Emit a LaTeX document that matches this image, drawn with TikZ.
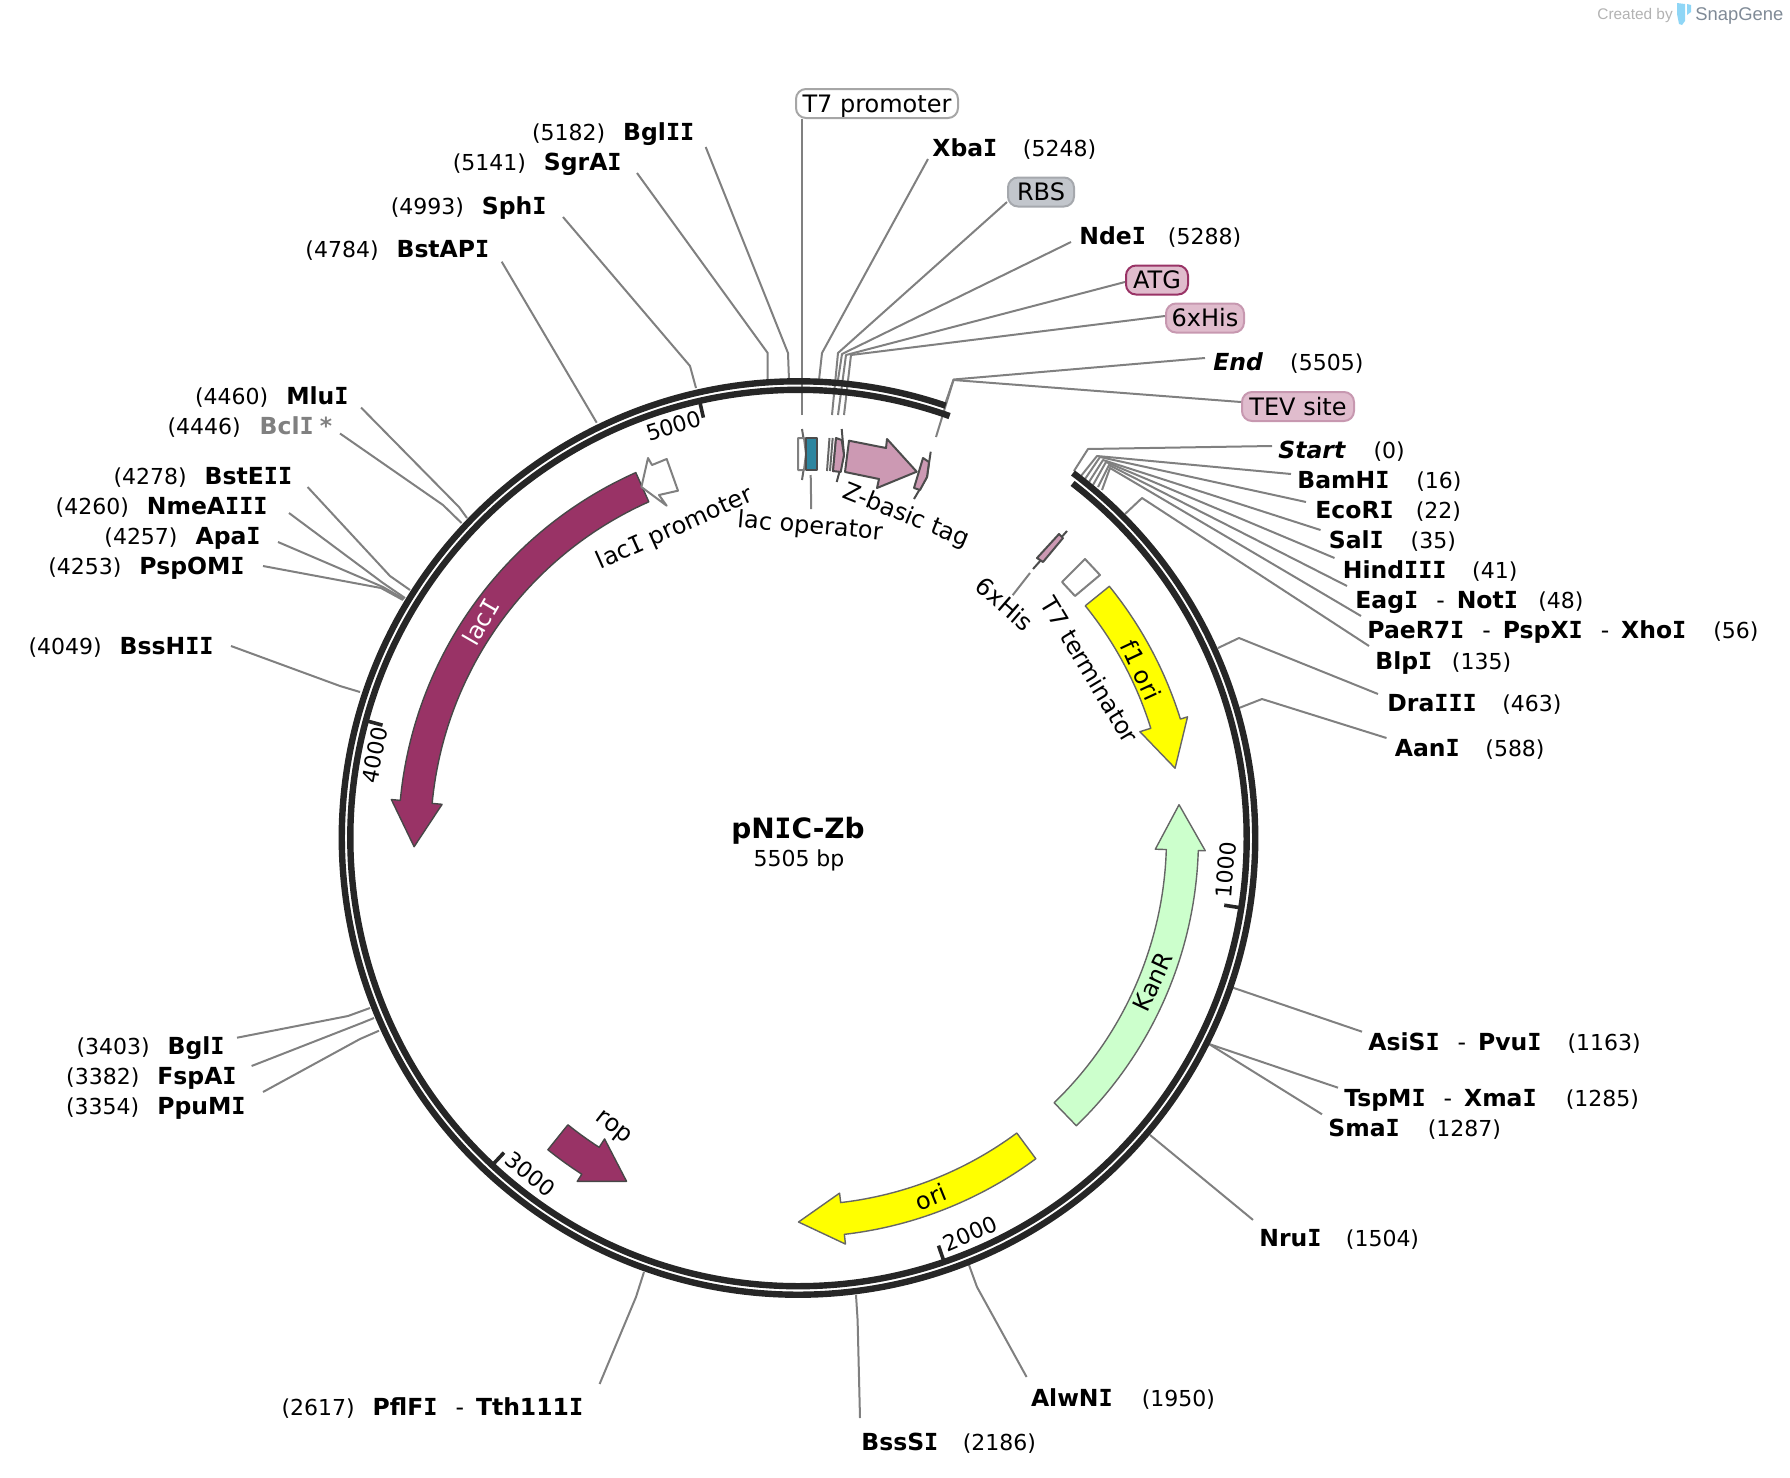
\documentclass[tikz,border=0pt]{standalone}
\usepackage{fontspec}
\setmainfont{DejaVu Sans}
\newfontfamily\logofont{Liberation Sans}
\newfontfamily\slabfont{DejaVu Sans Mono}
\definecolor{ringc}{HTML}{262626}
\definecolor{leaderc}{HTML}{808080}
\definecolor{purplec}{HTML}{993366}
\definecolor{pinkc}{HTML}{CC99B3}
\definecolor{pinkl}{HTML}{E0BCCD}
\definecolor{pinkd}{HTML}{C798B0}
\definecolor{tealc}{HTML}{2E86A0}
\definecolor{greyb}{HTML}{C2C6CC}
\definecolor{greene}{HTML}{CCFFCC}
\definecolor{yellowc}{RGB}{255,255,0}
\definecolor{snapc}{HTML}{7F8A96}
\definecolor{snapb}{HTML}{8FD6F6}
\newcommand{\bI}{{\slabfont\bfseries I}}
\newcommand{\rI}{{\slabfont I}}
\newcommand{\site}[3][14.5pt]{{\fontsize{11.75}{13}\selectfont\bfseries #2}\hspace{#1}#3}
\newcommand{\sitel}[3][9pt]{#2\hspace{#1}{\fontsize{11.75}{13}\selectfont\bfseries #3}}
\newcommand{\sitedash}{\hspace{9pt}{\fontseries{m}\selectfont -}\hspace{6pt}}
\tikzset{
    rlabel/.style = {anchor=west, inner xsep=3pt, inner ysep=1pt, text height=8.5pt, text depth=0pt, font=\fontsize{11}{13}\selectfont},
    llabel/.style = {anchor=east, inner xsep=2pt, inner ysep=1pt, text height=8.5pt, text depth=0pt, font=\fontsize{11}{13}\selectfont},
    featbox/.style = {draw, rounded corners=5pt, line width=1pt, inner xsep=0pt, inner ysep=2.85pt, text height=8.8pt, text depth=0pt, font=\fontsize{12}{14}\selectfont},
    featlabel/.style = {inner sep=1pt, font=\fontsize{12}{14}\selectfont},
    ticklabel/.style = {inner sep=1pt, font=\fontsize{11}{13}\selectfont},
    leader/.style = {draw=leaderc, line width=1pt, line join=round},
    ring/.style = {draw=ringc, line width=3.2pt},
    tickm/.style = {draw=ringc, line width=1.8pt},
    genepurple/.style = {draw=ringc!85, fill=purplec, line width=0.7pt, line join=round},
    geneyellow/.style = {draw=black!60, fill=yellowc, line width=0.7pt, line join=round},
    genegreen/.style = {draw=black!60, fill=greene, line width=0.7pt, line join=round},
    small/.style = {draw=black!70, line width=1pt, line join=round}
}

\begin{document}
\begin{tikzpicture}[x=0.5pt,y=-0.5pt]
\useasboundingbox (0,0) rectangle (1790,1478);

% boxed features
\node[featbox, draw=black!35, fill=white, minimum width=81pt] (T7prom) at (877,103.5) {T7 promoter};
\node[featbox, draw=greyb!85!black, fill=greyb, minimum width=33pt] (RBS) at (1041,192) {RBS};
\node[featbox, draw=purplec, fill=pinkl, minimum width=31pt] (ATG) at (1157,280) {ATG};
\node[featbox, draw=pinkd, fill=pinkl, minimum width=39pt] (SixHis) at (1205,318) {6xHis};
\node[featbox, draw=pinkd, fill=pinkl, minimum width=56pt] (TEV) at (1298,406.5) {TEV site};

% sites on the right
\node[rlabel] (XbaI) at (926,148) {\site[12.8pt]{Xba\bI}{(5248)}};
\node[rlabel] (NdeI) at (1073,236) {\site[11pt]{Nde\bI}{(5288)}};
\node[rlabel] (End) at (1207,362) {\site[13.6pt]{\itshape End}{(5505)}};
\node[rlabel] (Start) at (1272,450) {\site[14.2pt]{\itshape Start}{(0)}};
\node[rlabel] (BamHI) at (1291,480) {\site[13.4pt]{BamH\bI}{(16)}};
\node[rlabel] (EcoRI) at (1309,510) {\site[11pt]{EcoR\bI}{(22)}};
\node[rlabel] (SalI) at (1322.5,540) {\site[13.4pt]{Sal\bI}{(35)}};
\node[rlabel] (HindIII) at (1336.5,570) {\site[12.8pt]{Hind\bI\bI\bI}{(41)}};
\node[rlabel] (EagI) at (1349,600) {\site[10.2pt]{Eag\bI\sitedash Not\bI}{(48)}};
\node[rlabel] (PaeR) at (1361,630) {\site[13.5pt]{PaeR7\bI\sitedash PspX\bI\sitedash Xho\bI}{(56)}};
\node[rlabel] (BlpI) at (1369,661) {\site[9.8pt]{Blp\bI}{(135)}};
\node[rlabel] (DraIII) at (1381,703) {\site[12.8pt]{Dra\bI\bI\bI}{(463)}};
\node[rlabel] (AanI) at (1388.5,748) {\site[12.8pt]{Aan\bI}{(588)}};
\node[rlabel] (AsiSI) at (1362,1041.7) {\site[13pt]{AsiS\bI\sitedash Pvu\bI}{(1163)}};
\node[rlabel] (TspMI) at (1338,1097.7) {\site{TspM\bI\sitedash Xma\bI}{(1285)}};
\node[rlabel] (SmaI) at (1322,1127.7) {\site[14pt]{Sma\bI}{(1287)}};
\node[rlabel] (NruI) at (1253,1237.7) {\site[12.2pt]{Nru\bI}{(1504)}};
\node[rlabel] (AlwNI) at (1024.6,1398) {\site{AlwN\bI}{(1950)}};
\node[rlabel] (BssSI) at (855,1442) {\site[12.2pt]{BssS\bI}{(2186)}};

% sites on the left
\node[llabel] (BglII) at (698.7,132) {\sitel{(5182)}{Bgl\bI\bI}};
\node[llabel] (SgrAI) at (626,162) {\sitel{(5141)}{SgrA\bI}};
\node[llabel] (SphI) at (551,206) {\sitel{(4993)}{Sph\bI}};
\node[llabel] (BstAPI) at (493.7,249.3) {\sitel{(4784)}{BstAP\bI}};
\node[llabel] (MluI) at (353,395.5) {\sitel{(4460)}{Mlu\bI}};
\node[llabel] (BclI) at (336.6,425.5) {\sitel[9.5pt]{(4446)}{\textcolor{leaderc}{Bcl\bI\hspace{-1pt} *}}};
\node[llabel] (BstEII) at (296.6,476) {\sitel{(4278)}{BstE\bI\bI}};
\node[llabel] (NmeAIII) at (272,506) {\sitel{(4260)}{NmeA\bI\bI\bI}};
\node[llabel] (ApaI) at (265,536) {\sitel{(4257)}{Apa\bI}};
\node[llabel] (PspOMI) at (249,566) {\sitel{(4253)}{PspOM\bI}};
\node[llabel] (BssHII) at (218,646) {\sitel{(4049)}{BssH\bI\bI}};
\node[llabel] (BglI) at (229,1045.7) {\sitel{(3403)}{Bgl\bI}};
\node[llabel] (FspAI) at (241,1076) {\sitel{(3382)}{FspA\bI}};
\node[llabel] (PpuMI) at (250,1106) {\sitel{(3354)}{PpuM\bI}};
\node[llabel] (PflFI) at (587.6,1407) {\sitel{(2617)}{PflF\bI\sitedash Tth111\bI}};

% labels of the features
\node[featlabel] (lacopL) at (810,527) [rotate=-5] {lac operator};
\node[featlabel] (ZbasicL) at (906,516) [rotate=-22] {Z-basic tag};
\node[featlabel] (lacIpL) at (675,529) [rotate=24] {lac\rI{} promoter};
\node[featlabel] (SixHisL) at (1005,604) [rotate=-41] {6xHis};
\node[featlabel] (T7termL) at (1090,670) [rotate=-59] {T7 terminator};

% leaders, ends on the ring first
\coordinate (fT7) at (802,415);
\coordinate (fRBS) at (832,415);
\coordinate (fATG) at (838,415);
\coordinate (fSixHis) at (844,415);
\coordinate (fTEV) at (936,437);
\coordinate (flacop) at (810.7,475);
\coordinate (fSixHisB) at (1030,573);
\draw[leader] (fT7) -- ([xshift=-37.5pt]T7prom.south);
\draw[leader] (fRBS) -- (838,353) -- ([yshift=-5pt]RBS.west);
\draw[leader] (fATG) -- (846,355) -- ([yshift=-1pt]ATG.west);
\draw[leader] (fSixHis) -- (851,355) -- ([yshift=1pt]SixHis.west);
\draw[leader] (fTEV) -- (953.5,380) -- ([yshift=2.25pt]TEV.west);
\draw[leader] (flacop) -- ([yshift=2pt]lacopL.north);
\draw[leader] (fSixHisB) -- (SixHisL.north);

\coordinate (rXbaI) at (819,380);
\coordinate (rNdeI) at (838,380);
\coordinate (rEnd) at (945.5,403);
\coordinate (rStart) at (1074,471);
\coordinate (rBamHI) at (1081,476);
\coordinate (rEcoRI) at (1085,479);
\coordinate (rSalI) at (1089,482);
\coordinate (rHindIII) at (1093,485);
\coordinate (rEagI) at (1098,487);
\coordinate (rPaeR) at (1102,490);
\coordinate (rBlpI) at (1125,514);
\coordinate (rDraIII) at (1218,648);
\coordinate (rAanI) at (1239,708);
\coordinate (rAsiSI) at (1233,987.7);
\coordinate (rTspMI) at (1209,1044);
\coordinate (rSmaI) at (1209,1044);
\coordinate (rNruI) at (1150,1135);
\coordinate (rAlwNI) at (969,1265);
\coordinate (rBssSI) at (856,1295);
\draw[leader] (rXbaI) -- (822,353) -- ([shift={(1pt,-5.5pt)}]XbaI.west);
\draw[leader] (rNdeI) -- (842,354) -- ([shift={(-1pt,-3pt)}]NdeI.west);
\draw[leader] (rEnd) -- (953.5,379.5) -- ([shift={(-1pt,2pt)}]End.west);
\draw[leader] (rStart) -- (1088,449) -- ([yshift=2pt]Start.west);
\draw[leader] (rBamHI) -- (1097,456) -- ([yshift=3pt]BamHI.west);
\draw[leader] (rEcoRI) -- (1100,457) -- ([shift={(-1.5pt,4pt)}]EcoRI.west);
\draw[leader] (rSalI) -- (1103,460) -- ([shift={(-1pt,5pt)}]SalI.west);
\draw[leader] (rHindIII) -- (1106,462) -- ([shift={(-1pt,6pt)}]HindIII.west);
\draw[leader] (rEagI) -- (1109,465) -- ([shift={(-1pt,7pt)}]EagI.west);
\draw[leader] (rPaeR) -- (1110,468) -- ([yshift=7pt]PaeR.west);
\draw[leader] (rBlpI) -- (1142,498) -- ([yshift=7.5pt]BlpI.west);
\draw[leader] (rDraIII) -- (1239,638) -- ([shift={(-1.5pt,4.5pt)}]DraIII.west);
\draw[leader] (rAanI) -- (1262,699) -- ([shift={(-1pt,5pt)}]AanI.west);
\draw[leader] (rAsiSI) -- ([yshift=5pt]AsiSI.west);
\draw[leader] (rTspMI) -- ([yshift=5pt]TspMI.west);
\draw[leader] (rSmaI) -- ([yshift=6.7pt]SmaI.west);
\draw[leader] (rNruI) -- ([yshift=8.9pt]NruI.west);
\draw[leader] (rAlwNI) -- (977,1287) -- ([shift={(1pt,10.5pt)}]AlwNI.west);
\draw[leader] (rBssSI) -- (857.6,1320) -- ([shift={(2.5pt,12pt)}]BssSI.west);

\coordinate (rBglII) at (789,380);
\coordinate (rSgrAI) at (767.7,380);
\coordinate (rSphI) at (696,388);
\coordinate (rBstAPI) at (596.7,422.7);
\coordinate (rMluI) at (467,518);
\coordinate (rBclI) at (461.5,523);
\coordinate (rBstEII) at (410,590);
\coordinate (rNmeAIII) at (405,598);
\coordinate (rApaI) at (404,599);
\coordinate (rPspOMI) at (403,600);
\coordinate (rBssHII) at (360,692);
\coordinate (rBglI) at (370,1008);
\coordinate (rFspAI) at (374,1018);
\coordinate (rPpuMI) at (379,1030.7);
\coordinate (rPflFI) at (644,1272);
\draw[leader] (rBglII) -- (788,353) -- ([shift={(3.5pt,-7.5pt)}]BglII.east);
\draw[leader] (rSgrAI) -- (767.7,353) -- ([shift={(5.5pt,-5.5pt)}]SgrAI.east);
\draw[leader] (rSphI) -- (690,366) -- ([shift={(6pt,-5.5pt)}]SphI.east);
\draw[leader] (rBstAPI) -- ([shift={(4pt,-6.2pt)}]BstAPI.east);
\draw[leader] (rMluI) -- (459,507) -- ([shift={(4pt,-6pt)}]MluI.east);
\draw[leader] (rBclI) -- (443,505) -- ([shift={(1.7pt,-4pt)}]BclI.east);
\draw[leader] (rBstEII) -- (390,576) -- ([shift={(5.5pt,-5.5pt)}]BstEII.east);
\draw[leader] (rNmeAIII) -- (383,583) -- ([shift={(8.5pt,-3.5pt)}]NmeAIII.east);
\draw[leader] (rApaI) -- (383,587) -- ([shift={(6.5pt,-3pt)}]ApaI.east);
\draw[leader] (rPspOMI) -- (381,588) -- ([xshift=7pt]PspOMI.east);
\draw[leader] (rBssHII) -- (340,686) -- ([xshift=6.5pt]BssHII.east);
\draw[leader] (rBglI) -- (348,1016) -- ([shift={(4pt,4pt)}]BglI.east);
\draw[leader] (rFspAI) -- (361.7,1023) -- ([shift={(5.3pt,5pt)}]FspAI.east);
\draw[leader] (rPpuMI) -- (360,1039) -- ([shift={(6.5pt,7pt)}]PpuMI.east);
\draw[leader] (rPflFI) -- (636,1297) -- ([shift={(6pt,11.5pt)}]PflFI.east);

% the plasmid ring and its features
\begin{scope}[shift={(798.5,838)},y=0.5pt]
\draw[ring] (53.06:456.7) arc[start angle=53.06,end angle=-288.8,radius=456.7];
\draw[ring] (52.3:448.2) arc[start angle=52.3,end angle=-289.7,radius=448.2];
\draw[tickm] (-8.97:447) -- (-8.97:431);
\draw[tickm] (-71.04:447) -- (-71.04:431);
\draw[tickm] (-133.11:447) -- (-133.11:431);
\draw[tickm] (-195.18:447) -- (-195.18:431);
\draw[tickm] (-257.25:447) -- (-257.25:431);

\draw[genepurple] (114:400) arc[start angle=114,end angle=174.6,radius=400] -- (174.6:409) -- (181.3:384.5) -- (174.6:358) -- (174.6:368) arc[start angle=174.6,end angle=114,radius=368] -- cycle;
\draw[genepurple] (-128.8:400) arc[start angle=-128.8,end angle=-122.8,radius=400] -- (-122.8:408.6) -- (-116.6:384) -- (-122.8:358) -- (-122.8:368) arc[start angle=-122.8,end angle=-128.8,radius=368] -- cycle;
\draw[geneyellow] (39:400) arc[start angle=39,end angle=17.3,radius=400] -- (17.3:407.5) -- (10.5:383) -- (17.3:357.6) -- (17.3:369) arc[start angle=17.3,end angle=39,radius=369] -- cycle;
\draw[geneyellow] (-53.5:399) arc[start angle=-53.5,end angle=-83.4,radius=399] -- (-83.4:408.8) -- (-90:384) -- (-83.4:357.5) -- (-83.4:367) arc[start angle=-83.4,end angle=-53.5,radius=367] -- cycle;
\draw[genegreen] (-46:400) arc[start angle=-46,end angle=-1.8,radius=400] -- (-1.8:407) -- (5:382) -- (-1.8:357) -- (-1.8:368) arc[start angle=-1.8,end angle=-46,radius=368] -- cycle;
\end{scope}

% promoter, terminator and the small features
\draw[small, fill=white, draw=black!50] (648,458) -- (652,465) -- (666.7,459) -- (678,490.7) -- (659,495) -- (666.7,505.7) -- (641.4,487) -- cycle;
\draw[small, fill=white, draw=black!50] (1085,559) -- (1100,575) -- (1075,596) -- (1062,582) -- cycle;
\draw[small, draw=black!60] (802,429) -- (806,454) -- (802,480);
\draw[small, fill=white, draw=black!50] (798,438) -- (804,438) -- (806,454) -- (804,470) -- (798,470) -- cycle;
\draw[small, fill=tealc] (806,438) -- (817,438) -- (817,470) -- (806,470) -- cycle;
\draw[small, draw=black!60] (829.5,438) -- (827,471);
\draw[small, draw=black!60] (832.7,438) -- (830,471);
\draw[small] (841.7,429) -- (844,455) -- (836.7,482);
\draw[draw=purplec, line width=1pt] (836,439) -- (833,472);
\draw[small, fill=pinkc] (836,438) -- (841.7,440) -- (844,455) -- (840.7,472) -- (833,471) -- cycle;
\draw[small, fill=pinkc] (849,440.7) -- (886,448) -- (887,439) -- (916.7,471.7) -- (877,488) -- (879,479) -- (845,472) -- cycle;
\draw[small] (930.7,451.7) -- (927,477) -- (914,499);
\draw[small, fill=pinkc] (923,458) -- (929,462) -- (927,477) -- (920,490) -- (914,488) -- cycle;
\draw[small] (1067,531) -- (1033,569);
\draw[small, fill=pinkc] (1059,534) -- (1063,538) -- (1043,562) -- (1037,558) -- cycle;

% texts on the ring and in the arrows
\node[ticklabel] (t1000) at (1226,870) [rotate=85.7] {1000};
\node[ticklabel] (t2000) at (970,1233.5) [rotate=23.5] {2000};
\node[ticklabel] (t3000) at (530.5,1174) [rotate=-38.8] {3000};
\node[ticklabel] (t4000) at (374.5,755) [rotate=79] {4000};
\node[ticklabel] (t5000) at (673.5,426) [rotate=17] {5000};
\node[featlabel, text=white] (lacIL) at (480.7,622) [rotate=60] {lac\rI};
\node[featlabel] (f1oriL) at (1141,670) [rotate=-65] {f1 ori};
\node[featlabel] (KanRL) at (1153,982) [rotate=65] {KanR};
\node[featlabel] (oriL) at (931,1197) [rotate=22] {ori};
\node[featlabel] (ropL) at (613,1128) [rotate=-38] {rop};

% name in the middle
\node[inner sep=0pt, font=\fontsize{14}{16}\selectfont\bfseries] (title) at (798,831) {pN\bI C-Zb};
\node[inner sep=0pt, font=\fontsize{11}{13}\selectfont] (size) at (799,860) {5505 bp};

% mark in the corner
\node[anchor=west, inner sep=0pt, text=black!30, font=\logofont\fontsize{7.7}{10}\selectfont] (created) at (1597,16) {Created by};
\node[anchor=west, inner sep=0pt, text=snapc, font=\logofont\fontsize{9.2}{11}\selectfont] (snapgene) at (1695,16) {SnapGene};
\fill[snapb] (1677,3) -- (1685,4) -- (1685,21) -- (1682,25) -- (1679,24) -- (1677,14) -- cycle;
\fill[snapb] (1687,4) -- (1691,5) -- (1691,12) -- (1687,15) -- cycle;
\end{tikzpicture}
\end{document}
